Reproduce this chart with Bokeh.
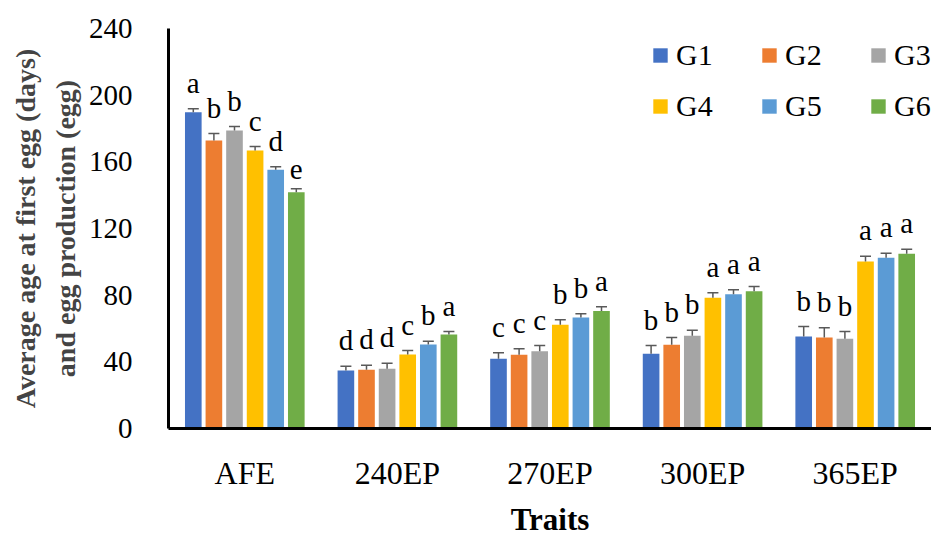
from bokeh.plotting import figure
from bokeh.models import ColumnDataSource, Range1d, FixedTicker, Legend, LegendItem, Title
from bokeh.transform import dodge
from bokeh.core.properties import value
from bokeh.embed import file_html
from bokeh.resources import INLINE

traits = ["AFE", "240EP", "270EP", "300EP", "365EP"]
groups = ["G1", "G2", "G3", "G4", "G5", "G6"]
colors = ["#4472C4", "#ED7D31", "#A5A5A5", "#FFC000", "#5B9BD5", "#70AD47"]

g1_mean = [189.8, 34.8, 41.8, 44.8, 55.2]
g2_mean = [172.8, 35.2, 44.2, 50.2, 54.6]
g3_mean = [178.8, 35.8, 46.4, 55.6, 53.8]
g4_mean = [166.8, 44.4, 62.2, 78.4, 100.2]
g5_mean = [155.2, 50.4, 66.6, 80.6, 102.4]
g6_mean = [141.8, 56.4, 70.5, 82.4, 104.8]

g1_err = [2.0, 2.6, 3.6, 5.0, 6.0]
g2_err = [4.2, 2.8, 3.6, 4.4, 5.8]
g3_err = [2.4, 3.4, 3.4, 3.4, 4.4]
g4_err = [2.4, 2.4, 3.0, 3.0, 3.2]
g5_err = [1.8, 2.0, 2.2, 2.6, 2.8]
g6_err = [2.0, 1.8, 2.5, 2.8, 2.8]

g1_letter = ["a", "d", "c", "b", "b"]
g2_letter = ["b", "d", "c", "b", "b"]
g3_letter = ["b", "d", "c", "b", "b"]
g4_letter = ["c", "c", "b", "a", "a"]
g5_letter = ["d", "b", "b", "a", "a"]
g6_letter = ["e", "a", "a", "a", "a"]

y_ticks = [0, 40, 80, 120, 160, 200, 240]

means = [g1_mean, g2_mean, g3_mean, g4_mean, g5_mean, g6_mean]
errs = [g1_err, g2_err, g3_err, g4_err, g5_err, g6_err]
letters = [g1_letter, g2_letter, g3_letter, g4_letter, g5_letter, g6_letter]

FONT = "Liberation Serif"

p = figure(x_range=traits, y_range=Range1d(0, 240), width=931, height=540,
           output_backend="svg", toolbar_location=None,
           min_border_left=168, min_border_right=0, min_border_top=28, min_border_bottom=112)
p.outline_line_color = None
p.xgrid.grid_line_color = None
p.ygrid.grid_line_color = None
p.x_range.range_padding = 0

for ax in (p.xaxis[0], p.yaxis[0]):
    ax.axis_line_width = 3
    ax.axis_line_color = "black"
    ax.major_tick_line_color = None
    ax.minor_tick_line_color = None
    ax.major_label_text_font = FONT
    ax.major_label_text_color = "black"

p.yaxis.ticker = FixedTicker(ticks=y_ticks)
p.yaxis.major_label_text_font_size = "29px"
p.yaxis.major_label_standoff = 30

p.xaxis.major_label_text_font_size = "32px"
p.xaxis.major_label_standoff = 20
p.xaxis.axis_label = "Traits"
p.xaxis.axis_label_text_font = FONT
p.xaxis.axis_label_text_font_size = "31px"
p.xaxis.axis_label_text_font_style = "bold"
p.xaxis.axis_label_text_color = "black"
p.xaxis.axis_label_standoff = 8

p.add_layout(Title(text="and egg production (egg)", align="center", text_font=FONT,
                   text_font_size="28px", text_font_style="bold", standoff=9), "left")
p.add_layout(Title(text="Average age at first egg (days)", align="center", text_font=FONT,
                   text_font_size="28px", text_font_style="bold", standoff=5), "left")

pitch = 0.135
bw = 0.109
items = []
for i, g in enumerate(groups):
    src = ColumnDataSource(dict(trait=traits, mean=means[i],
                                upper=[m + e for m, e in zip(means[i], errs[i])],
                                letter=letters[i]))
    off = (i - 2.5) * pitch
    xd = dodge("trait", off, range=p.x_range)
    r = p.vbar(x=xd, top="mean", width=bw, source=src, fill_color=colors[i], line_color=None)
    p.segment(x0=xd, y0="mean", x1=xd, y1="upper", source=src, line_color="#595959", line_width=1.5)
    p.scatter(x=xd, y="upper", source=src, marker="dash", size=11, line_color="#595959", line_width=1.5)
    p.text(x=xd, y="upper", text="letter", source=src, text_align="center", text_baseline="bottom",
           y_offset=-10, text_font=value(FONT), text_font_size="29px", text_color="black")
    items.append(LegendItem(label=g, renderers=[r]))

legend = Legend(items=items, orientation="horizontal", ncols=3, location=(483, 305),
                glyph_width=18, glyph_height=18, label_standoff=7, spacing=17, label_width=67,
                label_text_font=FONT, label_text_font_size="30px", label_text_color="black",
                background_fill_alpha=0, border_line_color=None, padding=0, margin=0)
p.add_layout(legend)

open("out.html", "w").write(file_html(p, INLINE))
